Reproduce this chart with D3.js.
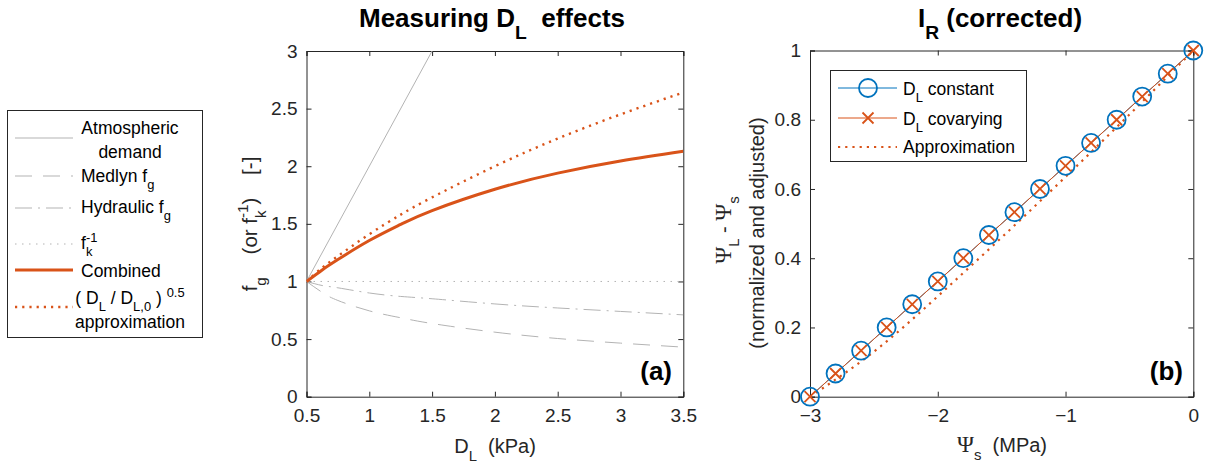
<!DOCTYPE html>
<html>
<head>
<meta charset="utf-8">
<script src="https://cdn.jsdelivr.net/npm/d3@7"></script>
<style>
  body { margin: 0; background: #fff; }
  svg text { font-family: "Liberation Sans", Arial, Helvetica, sans-serif; white-space: pre; }
</style>
</head>
<body>
<svg id="chart" width="1206" height="465"></svg>
<script>
// ---- panel (a) data: D_L in kPa ----
var dL        = [0.5, 0.625, 0.75, 1, 1.25, 1.5, 2, 2.5, 3, 3.5];
var demandD   = [0.5, 1.5];
var demandF   = [1, 3];
var medlynF   = [1, 0.905, 0.835, 0.745, 0.685, 0.635, 0.56, 0.505, 0.465, 0.43];
var hydraulicF= [1, 0.965, 0.945, 0.9, 0.87, 0.85, 0.805, 0.77, 0.74, 0.71];
var fkInvD    = [0.5, 3.5];
var fkInvF    = [1, 1];
var combinedF = [1, 1.10, 1.19, 1.355, 1.495, 1.615, 1.80, 1.94, 2.045, 2.13];
var approxF   = [1, 1.12, 1.22, 1.41, 1.58, 1.73, 2.0, 2.24, 2.45, 2.64];
var xTicksA   = [0.5, 1, 1.5, 2, 2.5, 3, 3.5];
var yTicksA   = [0, 0.5, 1, 1.5, 2, 2.5, 3];

// ---- panel (b) data: Psi_s in MPa ----
var psiS       = [-3, -2.8, -2.6, -2.4, -2.2, -2, -1.8, -1.6, -1.4, -1.2, -1, -0.8, -0.6, -0.4, -0.2, 0];
var irConstant = [0, 0.067, 0.133, 0.2, 0.267, 0.333, 0.4, 0.467, 0.533, 0.6, 0.667, 0.733, 0.8, 0.867, 0.933, 1];
var irCovary   = [0, 0.067, 0.133, 0.2, 0.267, 0.333, 0.4, 0.467, 0.533, 0.6, 0.667, 0.733, 0.8, 0.867, 0.933, 1];
var approxPsi  = [-3, -2.5, -2, -1.5, -1, -0.5, 0];
var approxIr   = [0, 0.13, 0.29, 0.46, 0.635, 0.815, 1];
var xTicksB    = [-3, -2, -1, 0];
var yTicksB    = [0, 0.2, 0.4, 0.6, 0.8, 1];

var ORANGE = '#D95319', BLUE = '#0072BD', GREY = '#b3b3b3', AXIS = '#262626';
var svg = d3.select('#chart');

// tiny tex-ish text: a_b, a_{bc}, a^{bc}
function rich(t, str, size, subK) {
  var re = /([_^])(\{[^}]*\}|.)|[^_^]+/g, m, cur = 0, prev = null;
  var sub = size * (subK || 0.45), sup = size * 0.42;
  while ((m = re.exec(str)) !== null) {
    var kind = m[1] === '_' ? 'sub' : m[1] === '^' ? 'sup' : 'n';
    var txt = kind === 'n' ? m[0] : m[2].replace(/^\{|\}$/g, '');
    var target = kind === 'sub' ? sub : kind === 'sup' ? -sup : 0;
    var ts = t.append('tspan').text(txt)
      .attr('dy', target - cur)
      .attr('font-size', kind === 'n' ? size : size * 0.74);
    if (kind === 'sup' && prev && prev.kind === 'sub') {
      ts.attr('dx', -prev.node.getComputedTextLength());
    }
    cur = target;
    prev = {kind: kind, node: ts.node()};
  }
  return t;
}

function panel(opt) {
  var x = d3.scaleLinear().domain(opt.xd).range([opt.x0, opt.x1]);
  var y = d3.scaleLinear().domain(opt.yd).range([opt.y0, opt.y1]);
  var g = svg.append('g');
  var id = 'clip' + opt.name;
  svg.append('clipPath').attr('id', id).append('rect')
    .attr('x', opt.x0).attr('y', opt.y1).attr('width', opt.x1 - opt.x0).attr('height', opt.y0 - opt.y1);

  var axB = g.append('g').attr('transform', 'translate(0,' + opt.y0 + ')')
    .call(d3.axisBottom(x).tickValues(opt.xt).tickSize(-5).tickFormat(d3.format('')));
  var axT = g.append('g').attr('transform', 'translate(0,' + opt.y1 + ')')
    .call(d3.axisTop(x).tickValues(opt.xt).tickSize(-5).tickFormat(''));
  var axL = g.append('g').attr('transform', 'translate(' + opt.x0 + ',0)')
    .call(d3.axisLeft(y).tickValues(opt.yt).tickSize(-5).tickPadding(9).tickFormat(d3.format('')));
  var axR = g.append('g').attr('transform', 'translate(' + opt.x1 + ',0)')
    .call(d3.axisRight(y).tickValues(opt.yt).tickSize(-5).tickFormat(''));
  [axB, axT, axL, axR].forEach(function (a) {
    a.select('.domain').attr('stroke', AXIS);
    a.selectAll('.tick line').attr('stroke', AXIS);
    a.selectAll('.tick text').attr('fill', AXIS).attr('font-size', 19)
      .attr('font-family', '"Liberation Sans", Arial, sans-serif');
  });
  axB.selectAll('.tick text').attr('dy', '0.71em').attr('y', 12);
  return {x: x, y: y, g: g, clip: 'url(#' + id + ')'};
}

function line(p, xs, ys, style) {
  var pts = xs.map(function (d, i) { return [d, ys[i]]; });
  var gen = d3.line().x(function (d) { return p.x(d[0]); }).y(function (d) { return p.y(d[1]); })
    .curve(style.curve || d3.curveLinear);
  return p.g.append('path').datum(pts).attr('d', gen).attr('fill', 'none')
    .attr('clip-path', p.clip)
    .attr('stroke', style.color).attr('stroke-width', style.width || 1)
    .attr('stroke-dasharray', style.dash || null);
}

// ================= panel (a) =================
var A = panel({name: 'a', xd: [0.5, 3.5], yd: [0, 3], x0: 306.5, x1: 683.3, y0: 396.7, y1: 51,
  xt: xTicksA, yt: yTicksA});

var stylesA = {
  demand:   {color: GREY, width: 1},
  medlyn:   {color: GREY, width: 1, dash: '17,11', curve: d3.curveNatural},
  hydraulic:{color: GREY, width: 1, dash: '17,6,2,6', curve: d3.curveNatural},
  fk:       {color: GREY, width: 1, dash: '1.5,5.5'},
  combined: {color: ORANGE, width: 3, curve: d3.curveNatural},
  approx:   {color: ORANGE, width: 2.4, dash: '2.2,5', curve: d3.curveNatural}
};
line(A, demandD, demandF, stylesA.demand);
line(A, dL, medlynF, stylesA.medlyn);
line(A, dL, hydraulicF, stylesA.hydraulic);
line(A, fkInvD, fkInvF, stylesA.fk);
line(A, dL, approxF, stylesA.approx);
line(A, dL, combinedF, stylesA.combined);

rich(svg.append('text').attr('x', 492).attr('y', 27).attr('text-anchor', 'middle')
  .attr('font-weight', 'bold'), 'Measuring D_L  effects', 26);
rich(svg.append('text').attr('x', 495).attr('y', 453).attr('text-anchor', 'middle').attr('fill', AXIS),
  'D_L  (kPa)', 20, 0.38);
rich(svg.append('text').attr('transform', 'translate(257,224) rotate(-90)').attr('text-anchor', 'middle')
  .attr('fill', AXIS), 'f_g    (or f_k^{-1})    [-]', 20.5);
svg.append('text').attr('x', 672).attr('y', 380).attr('text-anchor', 'end')
  .attr('font-weight', 'bold').attr('font-size', 26).text('(a)');

// left legend
var legA = svg.append('g');
legA.append('rect').attr('x', 7.5).attr('y', 110.5).attr('width', 195).attr('height', 227)
  .attr('fill', '#fff').attr('stroke', AXIS).attr('stroke-width', 1);
var legItems = [
  {style: stylesA.demand,   ly: 138, rows: [['Atmospheric', 134], ['demand', 158]]},
  {style: stylesA.medlyn,   ly: 176, rows: [['Medlyn f_g', 182]]},
  {style: stylesA.hydraulic,ly: 208, rows: [['Hydraulic f_g', 213]]},
  {style: stylesA.fk,       ly: 244, rows: [['f_k^{-1}', 249]]},
  {style: stylesA.combined, ly: 270, rows: [['Combined', 277]]},
  {style: stylesA.approx,   ly: 307, rows: [['( D_L / D_{L,0} ) ^{0.5}', 304], ['approximation', 328]]}
];
legItems.forEach(function (it) {
  legA.append('line').attr('x1', 15).attr('x2', 73).attr('y1', it.ly).attr('y2', it.ly)
    .attr('stroke', it.style.color).attr('stroke-width', it.style.width)
    .attr('stroke-dasharray', it.style.dash || null);
  var multi = it.rows.length > 1;
  it.rows.forEach(function (r) {
    var t = legA.append('text').attr('y', r[1]).attr('fill', '#000');
    if (multi) t.attr('x', 130).attr('text-anchor', 'middle'); else t.attr('x', 81);
    rich(t, r[0], 17.5, 0.4);
  });
});

// ================= panel (b) =================
var B = panel({name: 'b', xd: [-3, 0], yd: [0, 1], x0: 810, x1: 1193.3, y0: 396.7, y1: 50.5,
  xt: xTicksB, yt: yTicksB});

line(B, psiS, irConstant, {color: BLUE, width: 1});
line(B, psiS, irCovary, {color: ORANGE, width: 1});
line(B, approxPsi, approxIr, {color: ORANGE, width: 2.2, dash: '2.2,5', curve: d3.curveNatural});

B.g.append('g').selectAll('circle').data(psiS).join('circle')
  .attr('cx', function (d) { return B.x(d); })
  .attr('cy', function (d, i) { return B.y(irConstant[i]); })
  .attr('r', 9).attr('fill', 'none').attr('stroke', BLUE).attr('stroke-width', 1.8);
function cross(sel, cx, cy, s) {
  sel.append('path').attr('d', 'M' + (cx - s) + ',' + (cy - s) + 'L' + (cx + s) + ',' + (cy + s) +
    'M' + (cx - s) + ',' + (cy + s) + 'L' + (cx + s) + ',' + (cy - s))
    .attr('stroke', ORANGE).attr('stroke-width', 1.8).attr('fill', 'none');
}
var crossG = B.g.append('g');
psiS.forEach(function (d, i) { cross(crossG, B.x(d), B.y(irCovary[i]), 5.5); });

rich(svg.append('text').attr('x', 1000).attr('y', 27).attr('text-anchor', 'middle')
  .attr('font-weight', 'bold'), 'I_R (corrected)', 26);

var xlabB = svg.append('text').attr('x', 1002).attr('y', 452).attr('text-anchor', 'middle').attr('fill', AXIS);
xlabB.append('tspan').text('Ψ').attr('font-family', '"Liberation Serif", serif').attr('font-size', 23);
xlabB.append('tspan').text('s').attr('font-size', 15).attr('dy', 8);
xlabB.append('tspan').text('  (MPa)').attr('font-size', 20).attr('dy', -8);

var ylab1 = svg.append('text').attr('transform', 'translate(731,230) rotate(-90)')
  .attr('text-anchor', 'middle').attr('fill', AXIS);
[['Ψ', 0, 23, 1], ['L', 8, 15, 0], [' - ', -8, 20, 0], ['Ψ', 0, 23, 1], ['s', 8, 15, 0]]
  .forEach(function (s) {
    var ts = ylab1.append('tspan').text(s[0]).attr('dy', s[1]).attr('font-size', s[2]);
    if (s[3]) ts.attr('font-family', '"Liberation Serif", serif');
  });
svg.append('text').attr('transform', 'translate(764,233) rotate(-90)').attr('text-anchor', 'middle')
  .attr('fill', AXIS).attr('font-size', 20).text('(normalized and adjusted)');

svg.append('text').attr('x', 1183).attr('y', 380).attr('text-anchor', 'end')
  .attr('font-weight', 'bold').attr('font-size', 26).text('(b)');

// right legend
var legB = svg.append('g');
legB.append('rect').attr('x', 830.5).attr('y', 70.5).attr('width', 196).attr('height', 91)
  .attr('fill', '#fff').attr('stroke', AXIS).attr('stroke-width', 1);
legB.append('line').attr('x1', 838).attr('x2', 897).attr('y1', 88).attr('y2', 88)
  .attr('stroke', BLUE).attr('stroke-width', 1);
legB.append('circle').attr('cx', 868).attr('cy', 88).attr('r', 9)
  .attr('fill', 'none').attr('stroke', BLUE).attr('stroke-width', 1.8);
legB.append('line').attr('x1', 838).attr('x2', 897).attr('y1', 118).attr('y2', 118)
  .attr('stroke', ORANGE).attr('stroke-width', 1);
cross(legB, 868, 118, 5.5);
legB.append('line').attr('x1', 838).attr('x2', 897).attr('y1', 147).attr('y2', 147)
  .attr('stroke', ORANGE).attr('stroke-width', 2.2).attr('stroke-dasharray', '2.2,5');
rich(legB.append('text').attr('x', 903).attr('y', 95), 'D_L constant', 17.5, 0.4);
rich(legB.append('text').attr('x', 903).attr('y', 125), 'D_L covarying', 17.5, 0.4);
rich(legB.append('text').attr('x', 903).attr('y', 153), 'Approximation', 17.5);
</script>
</body>
</html>
